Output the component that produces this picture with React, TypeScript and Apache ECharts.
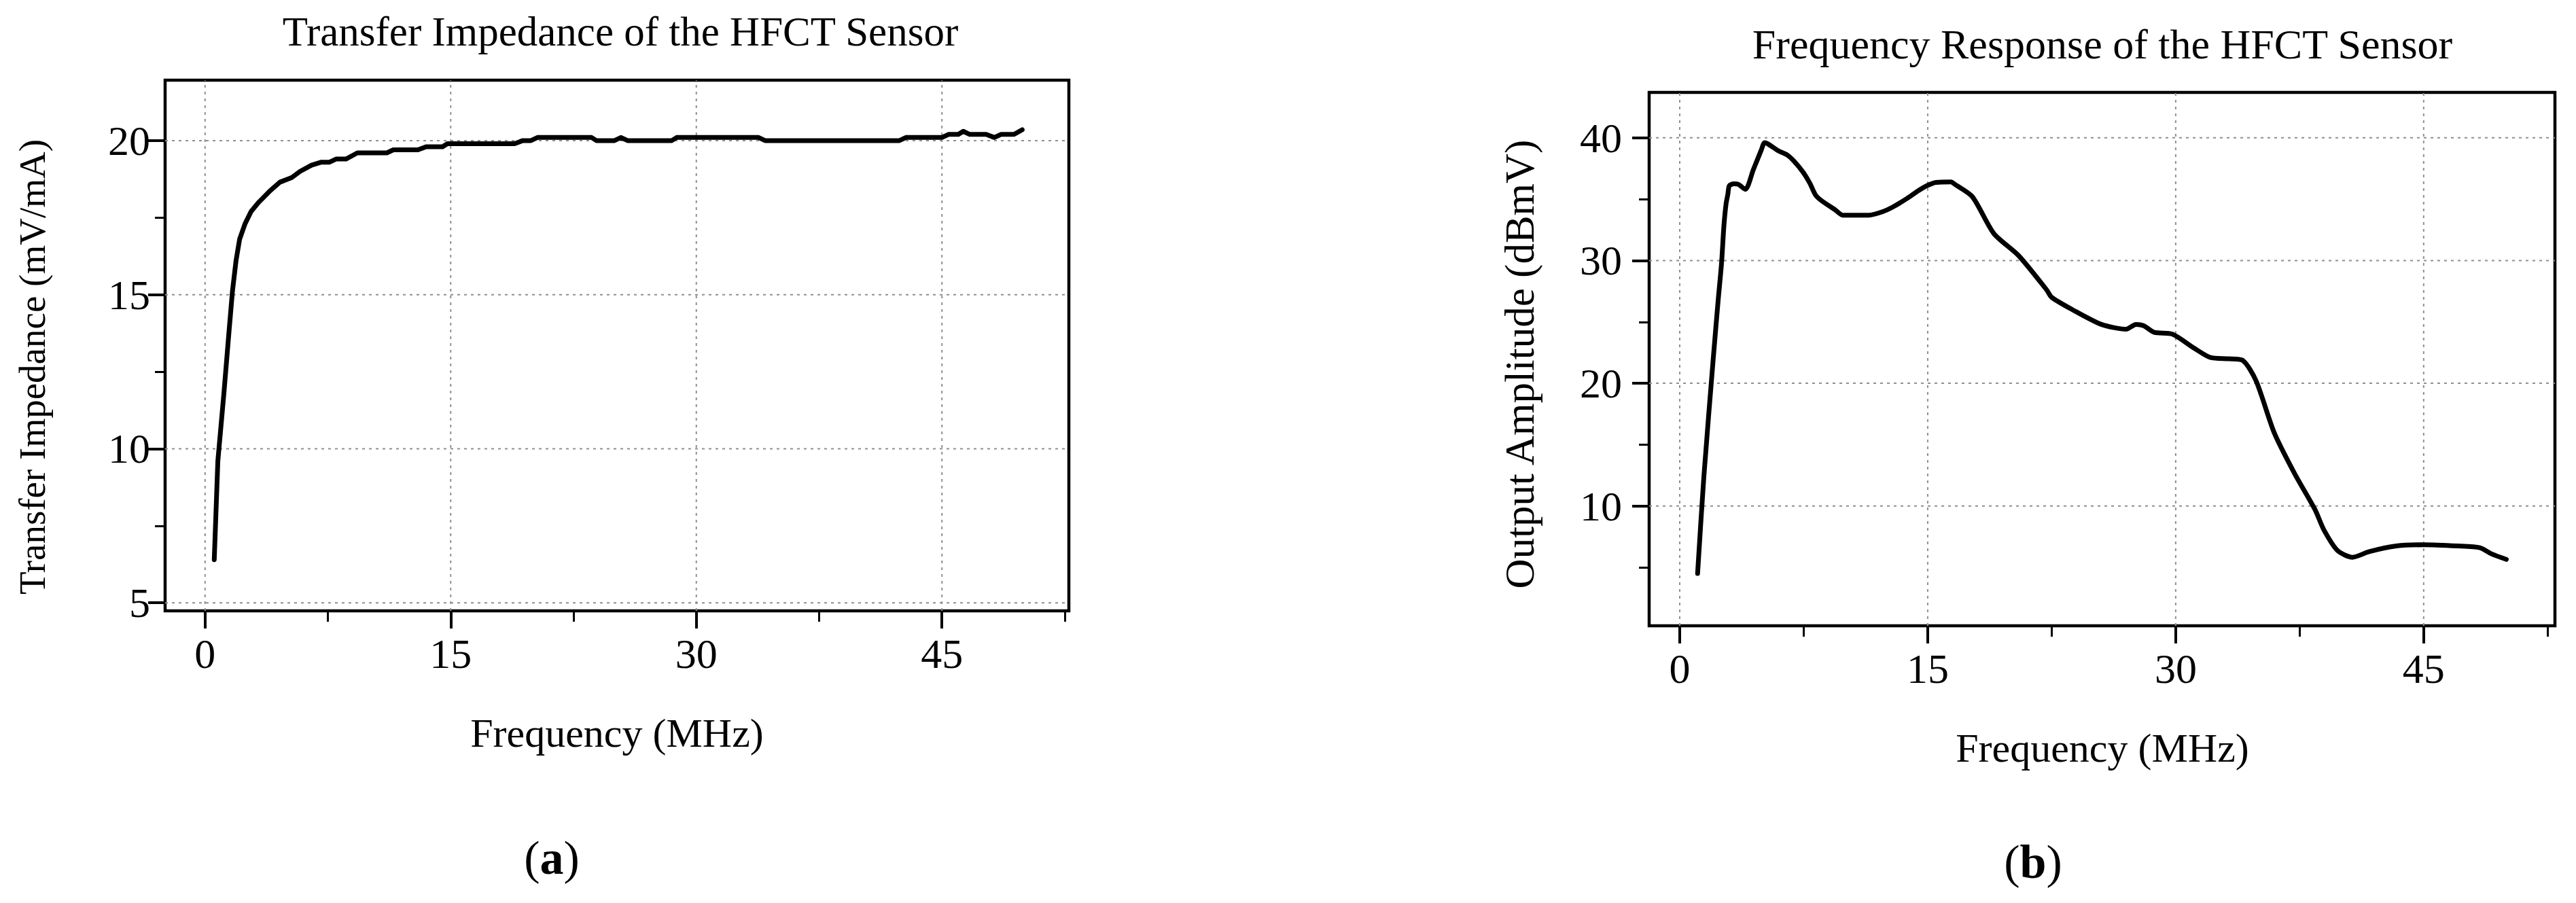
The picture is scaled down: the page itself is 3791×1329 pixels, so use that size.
import React, { useEffect, useRef } from "react";
import * as echarts from "echarts";

// Panel (a): transfer impedance
const impedanceFreq = [0.56, 0.78, 1.15, 1.43, 1.67, 1.89, 2.11, 2.44, 2.81, 3.28, 3.93, 4.57, 5.3, 5.8, 6.5, 7.1, 7.6, 8.0, 8.6, 9.3, 11.1, 11.5, 13.0, 13.5, 14.5, 14.8, 18.9, 19.4, 19.9, 20.3, 23.6, 23.9, 25.0, 25.4, 25.8, 28.5, 28.8, 33.8, 34.2, 42.4, 42.8, 45.0, 45.4, 46.0, 46.3, 46.7, 47.7, 48.2, 48.6, 49.4, 49.9];
const impedanceValues = [6.4, 9.6, 11.8, 13.6, 15.1, 16.1, 16.8, 17.3, 17.7, 18.0, 18.35, 18.65, 18.8, 19.0, 19.2, 19.3, 19.3, 19.4, 19.4, 19.6, 19.6, 19.7, 19.7, 19.8, 19.8, 19.9, 19.9, 20.0, 20.0, 20.1, 20.1, 20.0, 20.0, 20.1, 20.0, 20.0, 20.1, 20.1, 20.0, 20.0, 20.1, 20.1, 20.2, 20.2, 20.3, 20.2, 20.2, 20.1, 20.2, 20.2, 20.35];

// Panel (b): frequency response
const responseFreq = [1.08, 1.46, 2.02, 2.32, 2.53, 2.67, 2.8, 2.91, 3.0, 3.28, 3.55, 3.97, 4.45, 4.93, 5.13, 5.34, 5.95, 6.5, 6.91, 7.46, 7.87, 8.21, 8.56, 9.38, 9.86, 11.43, 12.25, 12.94, 13.76, 14.44, 15.0, 15.5, 16.4, 16.65, 17.7, 19.0, 20.5, 22.2, 22.5, 23.75, 25.5, 27.0, 27.6, 28.05, 28.7, 29.8, 31.07, 32.1, 33.2, 34.04, 34.86, 35.96, 37.19, 38.43, 38.97, 39.79, 40.69, 41.7, 43.35, 45.0, 47.05, 48.4, 49.1, 50.0];
const responseValues = [4.5, 12.4, 21.9, 26.7, 29.8, 32.8, 34.6, 35.4, 36.1, 36.25, 36.2, 35.8, 37.4, 39.0, 39.6, 39.5, 38.95, 38.6, 38.1, 37.2, 36.3, 35.35, 34.9, 34.15, 33.7, 33.7, 33.97, 34.4, 35.07, 35.7, 36.13, 36.37, 36.4, 36.2, 35.2, 32.2, 30.4, 27.6, 27.0, 26.0, 24.8, 24.4, 24.8, 24.7, 24.15, 24.0, 22.9, 22.1, 22.0, 21.88, 20.2, 15.97, 12.65, 9.7, 8.04, 6.37, 5.82, 6.28, 6.74, 6.84, 6.74, 6.6, 6.1, 5.65];

// Tick values
const majorXTicks = [0, 15, 30, 45];
const minorXTicks = [7.5, 22.5, 37.5, 52.5];
const impedanceMajorY = [5, 10, 15, 20];
const impedanceMinorY = [7.5, 12.5, 17.5];
const responseMajorY = [10, 20, 30, 40];
const responseMinorY = [5, 15, 25, 35];

// Texts
const titleA = "Transfer Impedance of the HFCT Sensor";
const titleB = "Frequency Response of the HFCT Sensor";
const xNameText = "Frequency (MHz)";
const yNameA = "Transfer Impedance (mV/mA)";
const yNameB = "Output Amplitude (dBmV)";

const FONT = '"Liberation Serif", "Times New Roman", serif';

const App: React.FC = () => {
  const ref = useRef<HTMLDivElement>(null);

  useEffect(() => {
    document.body.style.margin = "0";
    if (!ref.current) return;
    const chart = echarts.init(ref.current, undefined, { renderer: "svg" });

    const ranges = [
      { xMin: -2.44, xMax: 52.75, yMin: 4.74, yMax: 21.96, yMajor: impedanceMajorY, yMinor: impedanceMinorY, yLabelMargin: 22 },
      { xMin: -1.85, xMax: 52.94, yMin: 0.24, yMax: 43.7, yMajor: responseMajorY, yMinor: responseMinorY, yLabelMargin: 40 },
    ];

    const xAxes: any[] = [];
    const yAxes: any[] = [];
    ranges.forEach((r, gi) => {
      xAxes.push({
        type: "value", gridIndex: gi, position: "bottom", min: r.xMin, max: r.xMax,
        axisLine: { show: false, onZero: false },
        axisTick: { show: true, customValues: majorXTicks, length: 26, lineStyle: { color: "#000", width: 4 } },
        axisLabel: { show: true, customValues: majorXTicks, margin: 32, fontSize: 62, fontFamily: FONT, color: "#000" },
        splitLine: { show: false },
      });
      xAxes.push({
        type: "value", gridIndex: gi, position: "bottom", min: r.xMin, max: r.xMax,
        axisLine: { show: false, onZero: false },
        axisTick: { show: true, customValues: minorXTicks, length: 16, lineStyle: { color: "#000", width: 3 } },
        axisLabel: { show: false },
        splitLine: { show: false },
      });
      yAxes.push({
        type: "value", gridIndex: gi, position: "left", min: r.yMin, max: r.yMax,
        axisLine: { show: false, onZero: false },
        axisTick: { show: true, customValues: r.yMajor, length: 25, lineStyle: { color: "#000", width: 4 } },
        axisLabel: { show: true, customValues: r.yMajor, margin: r.yLabelMargin, fontSize: 62, fontFamily: FONT, color: "#000" },
        splitLine: { show: false },
      });
      yAxes.push({
        type: "value", gridIndex: gi, position: "left", min: r.yMin, max: r.yMax,
        axisLine: { show: false, onZero: false },
        axisTick: { show: true, customValues: r.yMinor, length: 15, lineStyle: { color: "#000", width: 3 } },
        axisLabel: { show: false },
        splitLine: { show: false },
      });
    });

    const gridStyle = { color: "#8f8f8f", width: 2, type: [4, 6] as any };
    const series: any[] = [];
    ranges.forEach((r, gi) => {
      const xi = gi * 2;
      majorXTicks.forEach((v) => {
        series.push({
          type: "line", xAxisIndex: xi, yAxisIndex: xi, z: 1, silent: true, showSymbol: false,
          data: [[v, r.yMin], [v, r.yMax]], lineStyle: gridStyle,
        });
      });
      r.yMajor.forEach((v) => {
        series.push({
          type: "line", xAxisIndex: xi, yAxisIndex: xi, z: 1, silent: true, showSymbol: false,
          data: [[r.xMin, v], [r.xMax, v]], lineStyle: gridStyle,
        });
      });
    });

    series.push({
      type: "line", xAxisIndex: 0, yAxisIndex: 0, z: 3, showSymbol: false, smooth: false,
      data: impedanceFreq.map((f, i) => [f, impedanceValues[i]]),
      lineStyle: { color: "#000", width: 7, join: "round", cap: "round" },
    });
    series.push({
      type: "line", xAxisIndex: 2, yAxisIndex: 2, z: 3, showSymbol: false, smooth: 0.25,
      data: responseFreq.map((f, i) => [f, responseValues[i]]),
      lineStyle: { color: "#000", width: 7, join: "round", cap: "round" },
    });

    const txt = (text: string, x: number, y: number, size: number, rotation = 0) => ({
      type: "text", x, y, rotation,
      style: { text, fontSize: size, fontFamily: FONT, fill: "#000", align: "center", verticalAlign: "middle" },
    });
    const tag = (letter: string, x: number, y: number) => ({
      type: "text", x, y,
      style: {
        text: `{p|(}{b|${letter}}{p|)}`, align: "center", verticalAlign: "middle",
        rich: {
          p: { fontSize: 70, fontFamily: FONT, fill: "#000" },
          b: { fontSize: 70, fontFamily: FONT, fontWeight: "bold", fill: "#000" },
        },
      },
    });

    chart.setOption({
      animation: false,
      backgroundColor: "#fff",
      grid: [
        { left: 243, top: 118, width: 1330, height: 781, show: true, borderColor: "#000", borderWidth: 4.5, backgroundColor: "transparent", containLabel: false },
        { left: 2427, top: 136, width: 1333, height: 785, show: true, borderColor: "#000", borderWidth: 4.5, backgroundColor: "transparent", containLabel: false },
      ],
      xAxis: xAxes,
      yAxis: yAxes,
      series,
      graphic: [
        txt(titleA, 913, 46, 61),
        txt(titleB, 3094, 65, 62),
        txt(xNameText, 908, 1079, 60),
        txt(xNameText, 3094, 1101, 60),
        txt(yNameA, 47, 540, 55, Math.PI / 2),
        txt(yNameB, 2236, 536, 61, Math.PI / 2),
        tag("a", 812, 1262),
        tag("b", 2992, 1268),
      ],
    });

    return () => chart.dispose();
  }, []);

  return <div ref={ref} style={{ width: 3791, height: 1329 }} />;
};

export default App;
